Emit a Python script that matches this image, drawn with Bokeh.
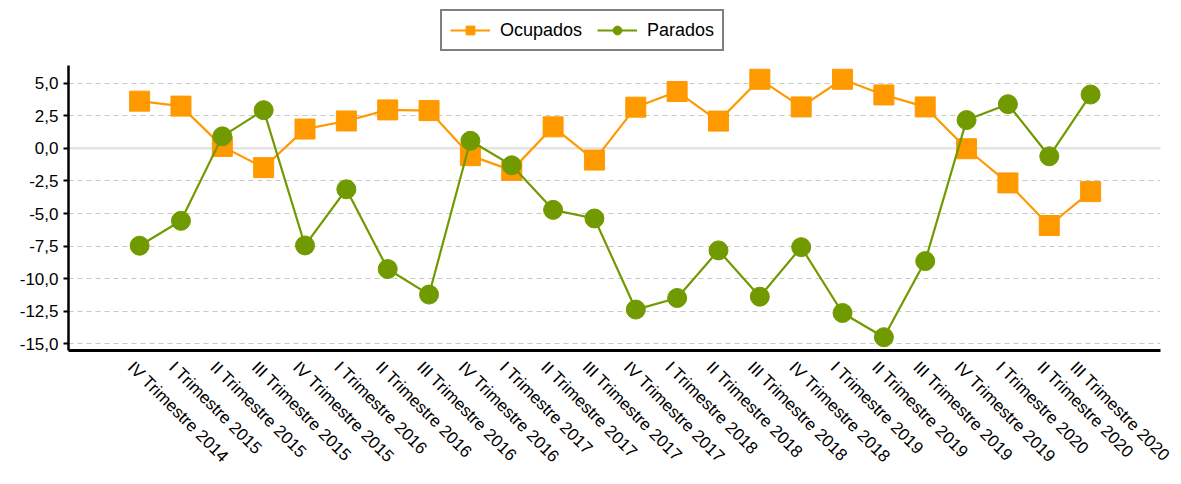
from bokeh.plotting import figure
from bokeh.models import (Range1d, FixedTicker, Legend, LegendItem, Span, ColumnDataSource, LinearAxis)
from bokeh.embed import file_html
from bokeh.resources import INLINE
import math

categories = [
    "IV Trimestre 2014",
    "I Trimestre 2015", "II Trimestre 2015", "III Trimestre 2015", "IV Trimestre 2015",
    "I Trimestre 2016", "II Trimestre 2016", "III Trimestre 2016", "IV Trimestre 2016",
    "I Trimestre 2017", "II Trimestre 2017", "III Trimestre 2017", "IV Trimestre 2017",
    "I Trimestre 2018", "II Trimestre 2018", "III Trimestre 2018", "IV Trimestre 2018",
    "I Trimestre 2019", "II Trimestre 2019", "III Trimestre 2019", "IV Trimestre 2019",
    "I Trimestre 2020", "II Trimestre 2020", "III Trimestre 2020",
]
ocupados = [3.62, 3.24, 0.15, -1.48, 1.48, 2.1, 2.95, 2.9, -0.56, -1.69, 1.65, -0.9,
            3.16, 4.36, 2.09, 5.3, 3.18, 5.3, 4.1, 3.18, -0.03, -2.65, -5.92, -3.32]
parados = [-7.47, -5.56, 0.92, 2.93, -7.45, -3.14, -9.26, -11.22, 0.58, -1.3, -4.72, -5.38,
           -12.37, -11.48, -7.83, -11.38, -7.58, -12.63, -14.49, -8.65, 2.17, 3.39, -0.61, 4.13]
y_ticks = [-15.0, -12.5, -10.0, -7.5, -5.0, -2.5, 0.0, 2.5, 5.0]
y_tick_labels = ["-15,0", "-12,5", "-10,0", "-7,5", "-5,0", "-2,5", "0,0", "2,5", "5,0"]

ORANGE = "#ff9900"
GREEN = "#719a00"
FONT = "Liberation Sans"

X_MIN, X_MAX = -1.72, 24.69
LABEL_SHIFT = 0.22               # rotated labels sit slightly left of their point
Y_MIN, Y_MAX = -15.51, 6.37      # extent of the drawn y axis
Y_TOP = 10.73                    # extra room above for the legend

idx = list(range(len(categories)))
src = ColumnDataSource(dict(x=idx, oc=ocupados, pa=parados))

p = figure(width=1173, height=476, output_backend="svg", toolbar_location=None,
           x_range=Range1d(X_MIN, X_MAX), y_range=Range1d(Y_MIN, Y_TOP),
           x_axis_location=None,
           min_border_left=68, min_border_right=13, min_border_top=8, min_border_bottom=125)
p.outline_line_color = None
p.background_fill_color = "white"
p.extra_x_ranges = {"lab": Range1d(X_MIN + LABEL_SHIFT, X_MAX + LABEL_SHIFT)}

xaxis = LinearAxis(x_range_name="lab", ticker=FixedTicker(ticks=idx))
xaxis.major_label_overrides = {i: c for i, c in zip(idx, categories)}
xaxis.major_label_orientation = -math.pi / 4
xaxis.major_tick_line_color = None
xaxis.minor_tick_line_color = None
xaxis.axis_line_width = 3
xaxis.axis_line_color = "black"
xaxis.major_label_text_font = FONT
xaxis.major_label_text_font_size = "17px"
xaxis.major_label_text_color = "black"
xaxis.major_label_standoff = 8
p.add_layout(xaxis, "below")

p.yaxis.ticker = FixedTicker(ticks=y_ticks)
p.yaxis.bounds = (Y_MIN, Y_MAX)
p.yaxis.major_label_overrides = {t: l for t, l in zip(y_ticks, y_tick_labels)}
p.yaxis.axis_line_width = 2.5
p.yaxis.axis_line_color = "black"
p.yaxis.major_tick_line_width = 2
p.yaxis.major_tick_in = 0
p.yaxis.major_tick_out = 5
p.yaxis.minor_tick_line_color = None
p.yaxis.major_label_text_font = FONT
p.yaxis.major_label_text_font_size = "17px"
p.yaxis.major_label_text_color = "black"
p.yaxis.major_label_standoff = 5

p.xgrid.grid_line_color = None
p.ygrid.grid_line_color = "#c8c8c8"
p.ygrid.grid_line_dash = "5 4"
p.ygrid.grid_line_width = 1.2

zero = Span(location=0, dimension="width", line_color="#e4e4e4", line_width=2.5, level="underlay")
p.add_layout(zero)

l1 = p.line("x", "oc", source=src, line_color=ORANGE, line_width=2.2)
m1 = p.scatter("x", "oc", source=src, marker="square", size=20, fill_color=ORANGE, line_color=ORANGE)
l2 = p.line("x", "pa", source=src, line_color=GREEN, line_width=2.2)
m2 = p.scatter("x", "pa", source=src, marker="circle", size=19, fill_color=GREEN, line_color=GREEN)

legend = Legend(items=[LegendItem(label="Ocupados", renderers=[l1, m1]),
                       LegendItem(label="Parados", renderers=[l2, m2])],
                orientation="horizontal", location=(372, 299))
legend.border_line_color = "black"
legend.border_line_width = 2.5
legend.label_text_font = FONT
legend.label_text_font_size = "18px"
legend.label_text_color = "black"
legend.glyph_width = 40
legend.glyph_height = 22
legend.padding = 8
legend.spacing = 15
legend.margin = 0
legend.label_standoff = 10
p.add_layout(legend, "center")

open("out.html", "w").write(file_html(p, INLINE))
